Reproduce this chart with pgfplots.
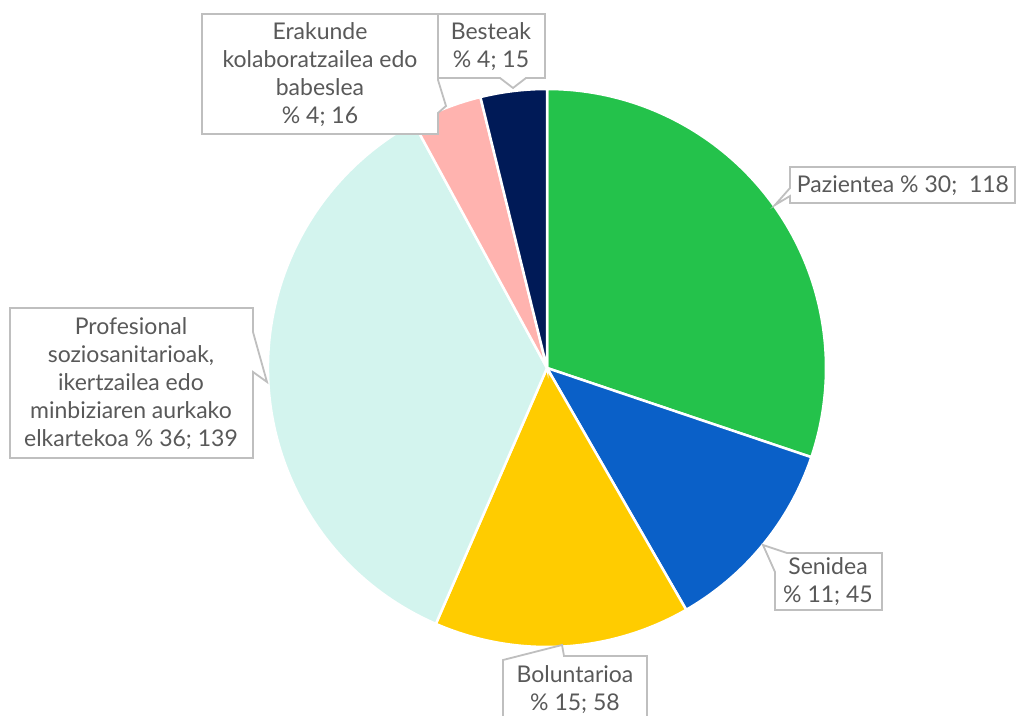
\documentclass[border=0pt]{standalone}
\usepackage{pgfplots}
\pgfplotsset{compat=1.18}
\usepackage{fontspec}
\setmainfont{Lato}
\definecolor{cgreen}{HTML}{24C24B}
\definecolor{cblue}{HTML}{0A60C8}
\definecolor{cyellow}{HTML}{FFCC00}
\definecolor{cmint}{HTML}{D3F4EE}
\definecolor{cpink}{HTML}{FFB3AF}
\definecolor{cnavy}{HTML}{001A57}
\definecolor{cborder}{HTML}{BFBFBF}
\definecolor{ctext}{HTML}{595959}
\begin{document}
\begin{tikzpicture}
\begin{axis}[name=ax, scale only axis, width=1017pt, height=715pt,
  xmin=0, xmax=1017, ymin=-715, ymax=0, hide axis, clip=false]
% Pie slices: Pazientea 118, Senidea 45, Boluntarioa 58, Profesional 139, Erakunde 16, Besteak 15 (total 391)
\filldraw[fill=cgreen, draw=white, line width=2.5pt] (axis cs:547,-368) -- ++(90:279pt) arc[start angle=90, end angle={90-118/391*360}, radius=279pt] -- cycle;
\filldraw[fill=cblue, draw=white, line width=2.5pt] (axis cs:547,-368) -- ++({90-118/391*360}:279pt) arc[start angle={90-118/391*360}, end angle={90-163/391*360}, radius=279pt] -- cycle;
\filldraw[fill=cyellow, draw=white, line width=2.5pt] (axis cs:547,-368) -- ++({90-163/391*360}:279pt) arc[start angle={90-163/391*360}, end angle={90-221/391*360}, radius=279pt] -- cycle;
\filldraw[fill=cmint, draw=white, line width=2.5pt] (axis cs:547,-368) -- ++({90-221/391*360}:279pt) arc[start angle={90-221/391*360}, end angle={90-360/391*360}, radius=279pt] -- cycle;
\filldraw[fill=cpink, draw=white, line width=2.5pt] (axis cs:547,-368) -- ++({90-360/391*360}:279pt) arc[start angle={90-360/391*360}, end angle={90-376/391*360}, radius=279pt] -- cycle;
\filldraw[fill=cnavy, draw=white, line width=2.5pt] (axis cs:547,-368) -- ++({90-376/391*360}:279pt) arc[start angle={90-376/391*360}, end angle={-270}, radius=279pt] -- cycle;
% Callouts
\tikzset{callout/.style={fill=white, draw=cborder, line width=1.8pt, line join=miter}}
\path[callout] (axis cs:202,-14) -- (axis cs:438,-14) -- (axis cs:438,-80) -- (axis cs:446,-106) -- (axis cs:438,-113) -- (axis cs:438,-134) -- (axis cs:202,-134) -- cycle;
\path[callout] (axis cs:438,-14) -- (axis cs:545,-14) -- (axis cs:545,-78) -- (axis cs:526,-78) -- (axis cs:513,-88) -- (axis cs:500,-78) -- (axis cs:438,-78) -- cycle;
\path[callout] (axis cs:790,-167) -- (axis cs:1015,-167) -- (axis cs:1015,-203) -- (axis cs:790,-203) -- (axis cs:790,-196) -- (axis cs:775,-205) -- (axis cs:790,-188) -- cycle;
\path[callout] (axis cs:10,-308) -- (axis cs:253,-308) -- (axis cs:253,-332) -- (axis cs:267,-382) -- (axis cs:253,-372) -- (axis cs:253,-458) -- (axis cs:10,-458) -- cycle;
\path[callout] (axis cs:775,-572) -- (axis cs:763,-545) -- (axis cs:787,-553) -- (axis cs:882,-553) -- (axis cs:882,-610) -- (axis cs:775,-610) -- cycle;
\path[callout] (axis cs:503,-660) -- (axis cs:562,-645) -- (axis cs:564,-656) -- (axis cs:647,-656) -- (axis cs:647,-740) -- (axis cs:503,-740) -- cycle;
% Labels
\tikzset{lbl/.style={text=ctext, align=center, inner sep=0pt, font=\fontsize{23}{28}\selectfont}}
\node[lbl] at (axis cs:320,-75) {Erakunde\\kolaboratzailea edo\\babeslea\\\% 4; 16};
\node[lbl] at (axis cs:491,-47) {Besteak\\\% 4; 15};
\node[lbl] at (axis cs:903,-186) {Pazientea \% 30;~ 118};
\node[lbl] at (axis cs:131,-384) {Profesional\\soziosanitarioak,\\ikertzailea edo\\minbiziaren aurkako\\elkartekoa \% 36; 139};
\node[lbl] at (axis cs:828,-582) {Senidea\\\% 11; 45};
\node[lbl] at (axis cs:575,-690) {Boluntarioa\\\% 15; 58};
\end{axis}
\pgfresetboundingbox
\path (ax.south west) rectangle (ax.north east);
\end{tikzpicture}
\end{document}
